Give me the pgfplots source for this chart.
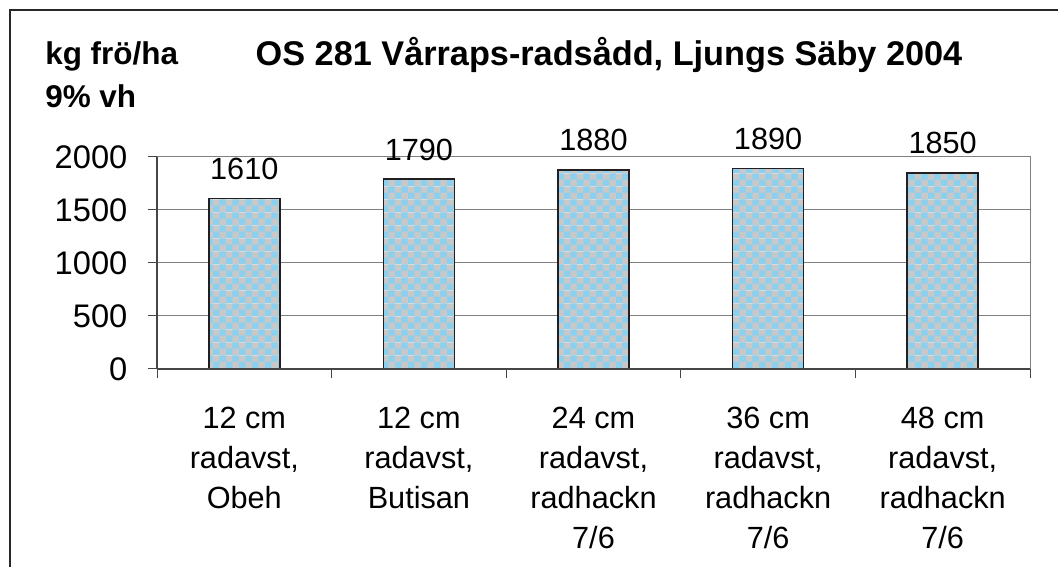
\documentclass[border=0pt]{standalone}
\usepackage{fontspec}
\setmainfont{Liberation Sans}
\usepackage{pgfplots}
\pgfplotsset{compat=1.18}
\usetikzlibrary{patterns}
\definecolor{chkblue}{RGB}{140,208,240}
\definecolor{chkgray}{RGB}{200,200,200}
\definecolor{gridgray}{RGB}{128,128,128}
\definecolor{axisdark}{RGB}{70,70,70}
\definecolor{framec}{RGB}{40,40,40}
\definecolor{barline}{RGB}{35,31,32}
\pgfdeclarepatterninherentlycolored{checker}{\pgfpointorigin}{\pgfqpoint{10pt}{10pt}}{\pgfqpoint{10pt}{10pt}}{%
  \pgfsetfillcolor{chkgray}%
  \pgfpathrectangle{\pgfpointorigin}{\pgfqpoint{10pt}{10pt}}%
  \pgfusepath{fill}%
  \pgfsetfillcolor{chkblue}%
  \pgfpathrectangle{\pgfpointorigin}{\pgfqpoint{5pt}{5pt}}%
  \pgfpathrectangle{\pgfqpoint{5pt}{5pt}}{\pgfqpoint{5pt}{5pt}}%
  \pgfusepath{fill}%
}
\begin{document}
\begin{tikzpicture}
\path[use as bounding box] (0,0) rectangle (793.5pt,425.25pt);
\draw[framec, line width=1.5pt] (7.5pt,0) -- (7.5pt,417.75pt) -- (793.5pt,417.75pt);
\node[anchor=base, font=\bfseries\fontsize{25.7}{30}\selectfont, inner sep=0pt] at (456.75pt,375.75pt) {OS 281 Vårraps-radsådd, Ljungs Säby 2004};
\node[anchor=base west, font=\bfseries\fontsize{23.6}{28}\selectfont, inner sep=0pt] at (33.75pt,376.5pt) {kg frö/ha};
\node[anchor=base west, font=\bfseries\fontsize{23.6}{28}\selectfont, inner sep=0pt] at (33.75pt,344.25pt) {9\% vh};
\begin{axis}[
  name=ax,
  at={(117.75pt,148.5pt)}, anchor=south west,
  scale only axis, width=654.75pt, height=159pt,
  xmin=0, xmax=5, ymin=0, ymax=2000,
  ybar, bar width=53.25pt,
  clip=false,
  /pgf/number format/1000 sep={},
  /pgf/number format/assume math mode=true,
  ytick={0,500,1000,1500,2000},
  ymajorgrids,
  grid style={gridgray, line width=0.75pt},
  axis line style={gridgray, line width=0.75pt},
  tick align=outside,
  tick pos=left,
  major tick length=7pt,
  tick style={axisdark, line width=0.75pt},
  xtick={0,1,2,3,4,5},
  xticklabels={,,,,,},
  extra x ticks={0.5,1.5,2.5,3.5,4.5},
  extra x tick labels={{12 cm\\radavst,\\Obeh},{12 cm\\radavst,\\Butisan},{24 cm\\radavst,\\radhackn\\7/6},{36 cm\\radavst,\\radhackn\\7/6},{48 cm\\radavst,\\radhackn\\7/6}},
  extra x tick style={major tick length=0pt, xticklabel style={anchor=north, align=center, inner sep=0pt, yshift=-28pt, font=\fontsize{23}{30}\selectfont}},
  yticklabel style={font=\fontsize{24.5}{28}\selectfont, inner sep=0pt, xshift=-15pt},
  nodes near coords,
  every node near coord/.append style={font=\fontsize{23}{27}\selectfont, anchor=south, inner sep=0pt, yshift=13.5pt, black},
]
\addplot[pattern=checker, draw=barline, line width=1.2pt] coordinates {(0.5,1610) (1.5,1790) (2.5,1880) (3.5,1890) (4.5,1850)};
\end{axis}
\draw[axisdark, line width=0.9pt] (ax.south west) -- (ax.north west);
\draw[axisdark, line width=0.9pt] (ax.south west) -- (ax.south east);
\end{tikzpicture}
\end{document}
